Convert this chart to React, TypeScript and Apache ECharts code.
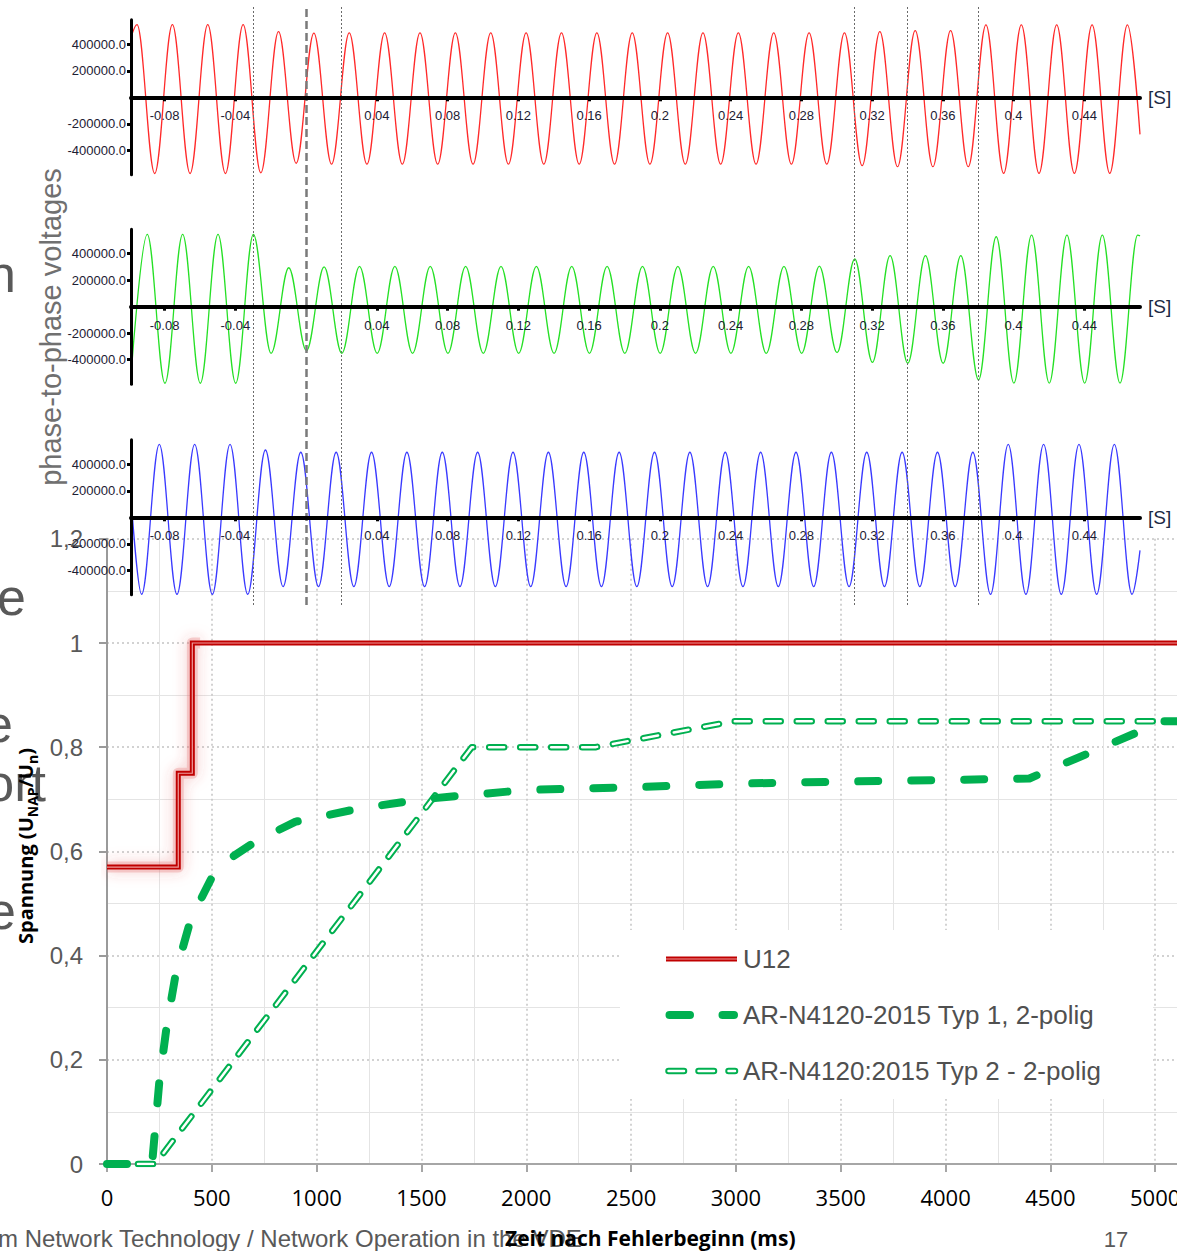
import React, { useEffect, useRef } from 'react';
import * as echarts from 'echarts';

// ================= Lower chart: FRT voltage curves =================
const u12Time = [0, 340, 340, 407, 407, 5500];
const u12Value = [0.57, 0.57, 0.75, 0.75, 1.0, 1.0];
const u12GlowEnd = 444;

const typ1Time = [0, 215, 250, 285, 330, 400, 500, 600, 720, 900, 1200, 1500, 2000, 2500, 3000, 3500, 4000, 4400, 5040, 5500];
const typ1Value = [0, 0, 0.16, 0.265, 0.37, 0.47, 0.55, 0.59, 0.622, 0.657, 0.682, 0.7, 0.718, 0.723, 0.73, 0.734, 0.737, 0.74, 0.85, 0.85];

const typ2Time = [0, 230, 1740, 2330, 2990, 5500];
const typ2Value = [0, 0, 0.8, 0.8, 0.85, 0.85];

const seriesNames = ['U12', 'AR-N4120-2015 Typ 1, 2-polig', 'AR-N4120:2015 Typ 2 - 2-polig'];

// ================= Upper charts: phase-to-phase voltages =================
const waveStart = -0.099;
const waveEnd = 0.4715;
const halfPeriod = 0.01;
const waveTickValues = [-0.08, -0.04, 0.04, 0.08, 0.12, 0.16, 0.2, 0.24, 0.28, 0.32, 0.36, 0.4, 0.44];
const voltTickValues = [-400000, -200000, 200000, 400000];
const markerTimes = [-0.0274, 0.0178, 0.3079, 0.3371, 0.3804];
const faultTime = 0;

// extrema (alternating peaks / troughs, one every half period)
const u12FirstExtremum = -0.0956;
const u12Extrema = [
  548000, -575000, 548000, -575000, 548000, -575000, 548000, -570000,
  495000, -498000, 485000, -505000,
  487000, -505000, 487000, -505000, 487000, -505000, 487000, -505000, 487000, -505000,
  487000, -505000, 487000, -505000, 487000, -505000, 487000, -505000, 487000, -505000,
  487000, -505000, 487000, -505000, 487000, -505000, 487000, -505000, 487000,
  -516000, 495000, -524000, 503000, -524000, 503000, -524000,
  546000, -574000, 546000, -574000, 546000, -574000, 546000, -574000, 546000,
];
const u12WaveStartValue = 450000;
const u12WaveEndValue = -280000;

const u23FirstExtremum = -0.0898;
const u23Extrema = [
  546000, -578000, 546000, -578000, 546000, -578000, 546000,
  -352000, 294000, -332000, 300000, -352000,
  305000, -352000, 305000, -352000, 305000, -352000, 305000, -352000, 305000, -352000,
  305000, -352000, 305000, -352000, 305000, -352000, 305000, -352000, 305000, -352000,
  305000, -352000, 305000, -352000, 305000, -352000,
  307000, -347000, 360000, -420000, 385000, -427000, 385000, -427000, 385000,
  -553000, 528000, -577000, 541000, -577000, 541000, -577000, 541000, -577000, 541000,
];
const u23WaveStartValue = -520000;
const u23WaveEndValue = 535000;

const u31FirstExtremum = -0.093;
const u31Extrema = [
  -581000, 551000, -581000, 551000, -581000, 551000, -581000,
  508000, -523000, 491000,
  -523000, 491000, -523000, 491000, -523000, 491000, -523000, 491000, -523000, 491000,
  -523000, 491000, -523000, 491000, -523000, 491000, -523000, 491000, -523000, 491000,
  -523000, 491000, -523000, 491000, -523000, 491000, -523000, 491000, -523000, 491000,
  -523000, 491000, -523000, 491000, -523000, 491000, -523000, 491000,
  -581000, 551000, -581000, 551000, -581000, 551000, -581000, 551000, -581000,
];
const u31WaveStartValue = 150000;
const u31WaveEndValue = -250000;

const waveColors = ['#ff2a2a', '#26e026', '#3a3aff'];

// ================= Background slide text =================
const slideFragments = [
  { text: 'n', x: 16, y: 274 },
  { text: 'e', x: 26, y: 597 },
  { text: 'e', x: 13, y: 724 },
  { text: 'ort', x: 46, y: 783 },
  { text: 'e', x: 16, y: 911 },
];
const sideTitle = 'phase-to-phase voltages';
const footerText = 'm Network Technology / Network Operation in the VDE';
const pageNumber = '17';
const xTitle = 'Zeit nach Fehlerbeginn (ms)';

const SANS = "'Liberation Sans', Arial, sans-serif";
const CAL = "'Open Sans', 'Noto Sans', sans-serif";

function pairs(t: number[], v: number[]) {
  return t.map((x, i) => [x, v[i]]);
}

function buildWave(first: number, extrema: number[], startV: number, endV: number) {
  const pts: number[][] = [[waveStart, startV]];
  extrema.forEach((v, k) => pts.push([first + k * halfPeriod, v]));
  pts.push([waveEnd, endV]);
  return pts;
}

function buildOption() {
  const panelZero = [97.3, 306.7, 517.3];
  const panelHalf = 77.5;
  const waveLeft = 131;
  const waveWidth = 1009;

  const grids: any[] = [
    { left: 107, top: 538.8, width: 1153, height: 625.2 },
    ...panelZero.map((z) => ({ left: waveLeft, top: z - panelHalf, width: waveWidth, height: panelHalf * 2 })),
    { left: waveLeft, top: 5, width: waveWidth, height: 600 },
  ];

  const majorSplit = { show: true, lineStyle: { color: '#c4c4c4', width: 1.5, type: [2, 3] } };
  const minorSplit = { show: true, lineStyle: { color: '#e4e4e4', width: 1 } };

  const xAxes: any[] = [
    {
      gridIndex: 0, type: 'value', min: 0, max: 5500, interval: 500,
      axisLine: { show: true, lineStyle: { color: '#a6a6a6', width: 2 } },
      axisTick: { show: true, length: 8, lineStyle: { color: '#a6a6a6', width: 2 } },
      axisLabel: { margin: 22, color: '#000', fontSize: 22, fontFamily: CAL, formatter: (v: number) => String(v) },
      splitLine: majorSplit,
      minorTick: { show: false, splitNumber: 2 },
      minorSplitLine: minorSplit,
    },
    ...[1, 2, 3].map((i) => ({
      gridIndex: i, type: 'value', min: waveStart, max: waveEnd, z: 5,
      position: 'bottom', offset: -panelHalf,
      axisLine: { show: true, onZero: false, lineStyle: { color: '#000', width: 4 } },
      axisTick: { show: true, customValues: waveTickValues, length: 4, lineStyle: { color: '#000', width: 3 } },
      axisLabel: {
        show: true, customValues: waveTickValues, margin: 12, color: '#1c2033', fontSize: 13, fontFamily: SANS,
        formatter: (v: number) => String(Number(v.toFixed(2))),
      },
      splitLine: { show: false },
      name: '[S]', nameLocation: 'end', nameGap: 8,
      nameTextStyle: { color: '#1c2a44', fontSize: 19, fontFamily: SANS, padding: [10, 0, 0, 0] },
    })),
    { gridIndex: 4, type: 'value', min: waveStart, max: waveEnd, show: false },
  ];

  const yAxes: any[] = [
    {
      gridIndex: 0, type: 'value', min: 0, max: 1.2, interval: 0.2,
      axisLine: { show: true, onZero: false, lineStyle: { color: '#9a9a9a', width: 2 } },
      axisTick: { show: true, length: 8, lineStyle: { color: '#9a9a9a', width: 2 } },
      axisLabel: {
        margin: 24, color: '#595959', fontSize: 24, fontFamily: SANS,
        formatter: (v: number) => String(Math.round(v * 10) / 10).replace('.', ','),
      },
      splitLine: majorSplit,
      minorTick: { show: false, splitNumber: 2 },
      minorSplitLine: minorSplit,
    },
    ...[1, 2, 3].map((i) => ({
      gridIndex: i, type: 'value', min: -585000, max: 585000, z: 5,
      axisLine: { show: true, onZero: false, lineStyle: { color: '#000', width: 3 } },
      axisTick: { show: true, customValues: voltTickValues, length: 4, lineStyle: { color: '#000', width: 3 } },
      axisLabel: {
        show: true, customValues: voltTickValues, margin: 5, color: '#1c2033', fontSize: 13, fontFamily: SANS,
        formatter: (v: number) => v.toFixed(1),
      },
      splitLine: { show: false },
    })),
    { gridIndex: 4, type: 'value', min: 0, max: 1, show: false },
  ];

  const u12Data = pairs(u12Time, u12Value);
  const glowData = u12Data.filter((p) => p[0] <= u12GlowEnd);
  glowData.push([u12GlowEnd, glowData[glowData.length - 1][1]]);

  const waves = [
    buildWave(u12FirstExtremum, u12Extrema, u12WaveStartValue, u12WaveEndValue),
    buildWave(u23FirstExtremum, u23Extrema, u23WaveStartValue, u23WaveEndValue),
    buildWave(u31FirstExtremum, u31Extrema, u31WaveStartValue, u31WaveEndValue),
  ];

  const series: any[] = [
    {
      type: 'line', name: 'U12 glow', xAxisIndex: 0, yAxisIndex: 0, data: glowData, showSymbol: false, silent: true, z: 1,
      lineStyle: { color: 'rgba(230,120,120,0.32)', width: 11, join: 'round', shadowBlur: 14, shadowColor: 'rgba(220,60,60,0.75)' },
    },
    {
      type: 'line', name: seriesNames[2], xAxisIndex: 0, yAxisIndex: 0, data: pairs(typ2Time, typ2Value), showSymbol: false, z: 2,
      lineStyle: { color: '#00b050', width: 6.5, type: [15, 16], cap: 'round', join: 'round' },
    },
    {
      type: 'line', name: seriesNames[2] + ' inner', xAxisIndex: 0, yAxisIndex: 0, data: pairs(typ2Time, typ2Value), showSymbol: false, z: 2, silent: true,
      lineStyle: { color: '#ffffff', width: 2.5, type: [15, 16], cap: 'round', join: 'round' },
    },
    {
      type: 'line', name: seriesNames[1], xAxisIndex: 0, yAxisIndex: 0, data: pairs(typ1Time, typ1Value), showSymbol: false, z: 2,
      lineStyle: { color: '#00b050', width: 8, type: [20, 33], cap: 'round', join: 'round' },
    },
    {
      type: 'line', name: seriesNames[0], xAxisIndex: 0, yAxisIndex: 0, data: u12Data, showSymbol: false, z: 3,
      lineStyle: { color: '#c00000', width: 5, join: 'miter' },
    },
    {
      type: 'line', name: seriesNames[0] + ' inner', xAxisIndex: 0, yAxisIndex: 0, data: u12Data, showSymbol: false, z: 3, silent: true,
      lineStyle: { color: '#ee9a9a', width: 1.2, join: 'miter' },
    },
    ...waves.map((d, i) => ({
      type: 'line', name: ['U12 wave', 'U23 wave', 'U31 wave'][i], xAxisIndex: i + 1, yAxisIndex: i + 1, data: d,
      showSymbol: false, smooth: 0.363, smoothMonotone: 'x', z: 3,
      lineStyle: { color: waveColors[i], width: 1.3 },
    })),
    {
      type: 'line', name: 'markers', xAxisIndex: 4, yAxisIndex: 4, data: [], silent: true, z: 4,
      markLine: {
        silent: true, symbol: ['none', 'none'], label: { show: false }, animation: false,
        data: [
          ...markerTimes.map((t) => ({ xAxis: t, lineStyle: { color: '#6a6a6a', width: 1, type: [2, 2] } })),
          { xAxis: faultTime, lineStyle: { color: '#7a7a7a', width: 2.5, type: [8, 4] } },
        ],
      },
    },
  ];

  const legendRowsY = [959, 1015, 1071];
  const LZ = 100;
  const legendText = (i: number) => ({
    type: 'text', x: 743, y: legendRowsY[i], z: LZ,
    style: { text: seriesNames[i], fontSize: 26, fontFamily: SANS, fill: '#505050', align: 'left', verticalAlign: 'middle' },
  });

  const graphic: any[] = [
    ...slideFragments.map((f) => ({
      type: 'text', x: f.x, y: f.y, z: 0,
      style: { text: f.text, align: 'right', verticalAlign: 'middle', fontSize: 52, fontFamily: SANS, fill: '#595959' },
    })),
    {
      type: 'text', x: 51, y: 327, rotation: Math.PI / 2, z: 0,
      style: { text: sideTitle, align: 'center', verticalAlign: 'middle', fontSize: 29, fontFamily: SANS, fill: '#707070' },
    },
    {
      type: 'text', x: -2, y: 1238, z: 0,
      style: { text: footerText, align: 'left', verticalAlign: 'middle', fontSize: 24, fontFamily: SANS, fill: '#595959' },
    },
    {
      type: 'text', x: 1116, y: 1239, z: 0,
      style: { text: pageNumber, align: 'center', verticalAlign: 'middle', fontSize: 22, fontFamily: SANS, fill: '#595959' },
    },
    {
      type: 'text', x: 505, y: 1238, z: LZ,
      style: { text: xTitle, align: 'left', verticalAlign: 'middle', fontSize: 21, fontWeight: 'bold', fontFamily: CAL, fill: '#000' },
    },
    {
      type: 'text', x: 25, y: 846, rotation: Math.PI / 2, z: LZ,
      style: {
        text: '{b|Spannung (U}{s|NAP}{b|/U}{s|n}{b|)}',
        align: 'center', verticalAlign: 'middle',
        rich: {
          b: { fontSize: 20, fontWeight: 'bold', fontFamily: CAL, fill: '#000', lineHeight: 28, verticalAlign: 'middle' },
          s: { fontSize: 14, fontWeight: 'bold', fontFamily: CAL, fill: '#000', lineHeight: 16, verticalAlign: 'bottom' },
        },
      },
    },
    { type: 'rect', z: LZ, shape: { x: 620, y: 930, width: 533, height: 169 }, style: { fill: '#ffffff' } },
    { type: 'line', z: LZ, shape: { x1: 666, y1: legendRowsY[0], x2: 737, y2: legendRowsY[0] }, style: { stroke: '#c00000', lineWidth: 5 } },
    { type: 'line', z: LZ, shape: { x1: 666, y1: legendRowsY[0], x2: 737, y2: legendRowsY[0] }, style: { stroke: '#ee9a9a', lineWidth: 1.2 } },
    legendText(0),
    {
      type: 'line', z: LZ, shape: { x1: 669.5, y1: legendRowsY[1], x2: 734, y2: legendRowsY[1] },
      style: { stroke: '#00b050', lineWidth: 8, lineDash: [20.5, 32.5], lineCap: 'round' },
    },
    legendText(1),
    {
      type: 'line', z: LZ, shape: { x1: 668.5, y1: legendRowsY[2], x2: 735, y2: legendRowsY[2] },
      style: { stroke: '#00b050', lineWidth: 6.5, lineDash: [15.5, 14.5], lineCap: 'round' },
    },
    {
      type: 'line', z: LZ, shape: { x1: 668.5, y1: legendRowsY[2], x2: 735, y2: legendRowsY[2] },
      style: { stroke: '#ffffff', lineWidth: 2.5, lineDash: [15.5, 14.5], lineCap: 'round' },
    },
    legendText(2),
  ];

  return {
    animation: false,
    backgroundColor: '#ffffff',
    grid: grids,
    xAxis: xAxes,
    yAxis: yAxes,
    series,
    graphic,
  };
}

export default function App() {
  const ref = useRef<HTMLDivElement>(null);
  useEffect(() => {
    if (!ref.current) return;
    const chart = echarts.init(ref.current, undefined, { renderer: 'svg' });
    chart.setOption(buildOption() as any);
    return () => chart.dispose();
  }, []);
  return (
    <div style={{ position: 'absolute', left: 0, top: 0, width: 1177, height: 1251, overflow: 'hidden', background: '#ffffff' }}>
      <div ref={ref} style={{ width: 1300, height: 1251 }} />
    </div>
  );
}
